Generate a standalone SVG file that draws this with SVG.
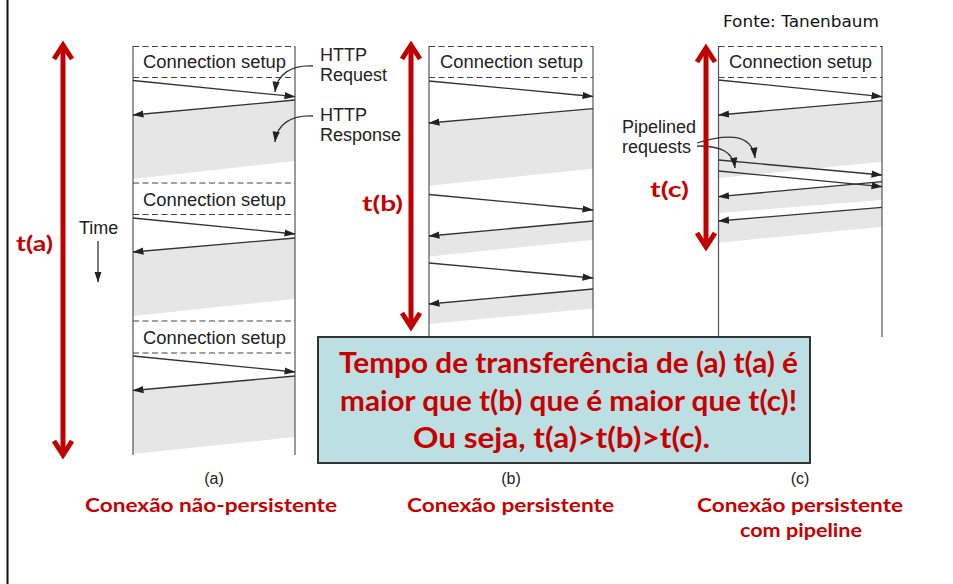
<svg xmlns="http://www.w3.org/2000/svg" width="953" height="584" viewBox="0 0 953 584">
<style>
  .col { stroke: #555; stroke-width: 1.2; fill: none; }
  .dash { stroke: #444; stroke-width: 1.2; stroke-dasharray: 6 3.5; fill: none; }
  .gray { fill: #E6E6E6; stroke: none; }
  .msg { stroke: #333; stroke-width: 1.3; fill: none; marker-end: url(#ah); }
  .curve { stroke: #333; stroke-width: 1.3; fill: none; marker-end: url(#ah); }
  .lbl { font-family: "Liberation Sans", Arial, sans-serif; font-size: 18px; fill: #222; }
  .sub { font-family: "Liberation Sans", Arial, sans-serif; font-size: 16px; fill: #222; text-anchor: middle; }
  .red { font-family: "Comic Sans MS", Lato, "DejaVu Sans", sans-serif; font-weight: bold; fill: #C80000; }
  .redarrow { stroke: #C00000; stroke-width: 5; fill: none; marker-start: url(#chev); marker-end: url(#chev); }
</style>
<defs>
  <marker id="ah" markerUnits="userSpaceOnUse" markerWidth="11" markerHeight="8" viewBox="0 0 11 8" refX="10.5" refY="4" orient="auto">
    <path d="M0,0.4 L11,4 L0,7.6 z" fill="#222"/>
  </marker>
  <marker id="chev" markerUnits="userSpaceOnUse" markerWidth="30" markerHeight="30" viewBox="-20 -15 30 30" refX="0" refY="0" orient="auto-start-reverse">
    <path d="M-14,-9 L0,0 L-14,9" fill="none" stroke="#C00000" stroke-width="5" stroke-linecap="butt" stroke-linejoin="miter"/>
  </marker>
</defs>

<rect width="953" height="584" fill="#fff"/>
<line x1="7.5" y1="0" x2="7.5" y2="584" stroke="#111" stroke-width="2"/>

<text x="723" y="27" font-family="'Comic Sans MS', 'DejaVu Sans', sans-serif" font-size="16" fill="#111" textLength="156" lengthAdjust="spacingAndGlyphs">Fonte: Tanenbaum</text>

<!-- Column (a) -->
<g id="col-a">
  <polygon class="gray" points="133,115 295,100 295,161 133,179"/>
  <polygon class="gray" points="133,252 295,238 295,299 133,316"/>
  <polygon class="gray" points="133,390 295,376 295,437 133,454"/>
  <line class="col" x1="133" y1="46" x2="133" y2="455"/>
  <line class="col" x1="295" y1="46" x2="295" y2="455"/>
  <line class="dash" x1="133" y1="46.5" x2="295" y2="46.5"/>
  <line class="dash" x1="133" y1="77.5" x2="295" y2="77.5"/>
  <line class="dash" x1="133" y1="183" x2="295" y2="183"/>
  <line class="dash" x1="133" y1="214.5" x2="295" y2="214.5"/>
  <line class="dash" x1="133" y1="321" x2="295" y2="321"/>
  <line class="dash" x1="133" y1="353" x2="295" y2="353"/>
  <text class="lbl" x="143" y="68" textLength="143" lengthAdjust="spacingAndGlyphs">Connection setup</text>
  <text class="lbl" x="143" y="206" textLength="143" lengthAdjust="spacingAndGlyphs">Connection setup</text>
  <text class="lbl" x="143" y="344" textLength="143" lengthAdjust="spacingAndGlyphs">Connection setup</text>
  <text class="sub" x="214" y="484">(a)</text>
</g>

<!-- Column (b) -->
<g id="col-b">
  <polygon class="gray" points="429,123 593,108.7 593,168.7 429,185.7"/>
  <polygon class="gray" points="429,236 593,221 593,240 429,256.5"/>
  <polygon class="gray" points="429,304 593,289 593,308.5 429,324"/>
  <line class="col" x1="429" y1="46" x2="429" y2="337"/>
  <line class="col" x1="593" y1="46" x2="593" y2="337"/>
  <line class="dash" x1="429" y1="46.5" x2="593" y2="46.5"/>
  <line class="dash" x1="429" y1="77.5" x2="593" y2="77.5"/>
  <text class="lbl" x="440" y="68" textLength="143" lengthAdjust="spacingAndGlyphs">Connection setup</text>
  <text class="sub" x="511" y="484">(b)</text>
</g>

<!-- Column (c) -->
<g id="col-c">
  <polygon class="gray" points="718.5,115 882,100.7 882,161.7 718.5,178"/>
  <polygon class="gray" points="718.5,196.7 882,181.7 882,200 718.5,213"/>
  <polygon class="gray" points="718.5,221 882,207.3 882,226.7 718.5,242.7"/>
  <line class="col" x1="718.5" y1="46" x2="718.5" y2="337"/>
  <line class="col" x1="882" y1="46" x2="882" y2="337"/>
  <line class="dash" x1="718.5" y1="46.5" x2="882" y2="46.5"/>
  <line class="dash" x1="718.5" y1="77.5" x2="882" y2="77.5"/>
  <text class="lbl" x="729" y="68" textLength="143" lengthAdjust="spacingAndGlyphs">Connection setup</text>
  <text class="sub" x="800" y="484">(c)</text>
</g>

<!-- Annotation labels -->
<g id="labels">
  <text class="lbl" x="320" y="61">HTTP</text>
  <text class="lbl" x="320" y="81">Request</text>
  <text class="lbl" x="320" y="121">HTTP</text>
  <text class="lbl" x="320" y="141">Response</text>
  <text class="lbl" x="79" y="234">Time</text>
  <text class="lbl" x="622" y="133">Pipelined</text>
  <text class="lbl" x="622" y="153">requests</text>
</g>

<!-- Connectors -->
<g id="connectors">
  <!-- (a) -->
  <line class="msg" x1="133" y1="80.5" x2="295" y2="96.7"/>
  <line class="msg" x1="295" y1="100" x2="133" y2="115"/>
  <line class="msg" x1="133" y1="218" x2="295" y2="234"/>
  <line class="msg" x1="295" y1="238" x2="133" y2="252"/>
  <line class="msg" x1="133" y1="356" x2="295" y2="372"/>
  <line class="msg" x1="295" y1="376" x2="133" y2="390.5"/>
  <!-- (b) -->
  <line class="msg" x1="429" y1="81" x2="593" y2="96.5"/>
  <line class="msg" x1="593" y1="108.7" x2="429" y2="123"/>
  <line class="msg" x1="429" y1="194.5" x2="593" y2="210"/>
  <line class="msg" x1="593" y1="221" x2="429" y2="236"/>
  <line class="msg" x1="429" y1="263" x2="593" y2="278"/>
  <line class="msg" x1="593" y1="289" x2="429" y2="304"/>
  <!-- (c) -->
  <line class="msg" x1="718.5" y1="80" x2="882" y2="96.7"/>
  <line class="msg" x1="882" y1="100.7" x2="718.5" y2="115"/>
  <line class="msg" x1="718.5" y1="160" x2="882" y2="175"/>
  <line class="msg" x1="718.5" y1="171" x2="882" y2="186.7"/>
  <line class="msg" x1="882" y1="181.7" x2="718.5" y2="196.7"/>
  <line class="msg" x1="882" y1="207.3" x2="718.5" y2="221"/>
  <!-- label pointers -->
  <path class="curve" d="M313,66 C291,65 277,74 275,92"/>
  <path class="curve" d="M313,116 C291,115 277,124 275,142"/>
  <path class="curve" d="M697,143 C722,135 752,131 755,158"/>
  <path class="curve" d="M697,146 C722,146 733,152 735,168"/>
  <line class="msg" x1="98" y1="241" x2="98" y2="282"/>
  <!-- red time spans -->
  <line class="redarrow" x1="63" y1="45" x2="63" y2="455"/>
  <line class="redarrow" x1="411" y1="45" x2="411" y2="327"/>
  <line class="redarrow" x1="706" y1="48" x2="706" y2="247"/>
</g>

<g id="time-labels">
  <text class="red" x="16" y="251" font-size="21" textLength="37" lengthAdjust="spacingAndGlyphs">t(a)</text>
  <text class="red" x="362" y="211" font-size="21" textLength="41" lengthAdjust="spacingAndGlyphs">t(b)</text>
  <text class="red" x="650" y="197" font-size="21" textLength="39" lengthAdjust="spacingAndGlyphs">t(c)</text>
</g>

<!-- Summary box -->
<g id="summary">
  <rect x="318" y="337" width="492" height="126" fill="#BBDFE2" stroke="#333" stroke-width="2"/>
  <text class="red" x="339" y="373" font-size="29" textLength="459" lengthAdjust="spacingAndGlyphs">Tempo de transferência de (a) t(a) é</text>
  <text class="red" x="340" y="411" font-size="29" textLength="457" lengthAdjust="spacingAndGlyphs">maior que t(b) que é maior que t(c)!</text>
  <text class="red" x="413" y="448" font-size="29" textLength="297" lengthAdjust="spacingAndGlyphs">Ou seja, t(a)&gt;t(b)&gt;t(c).</text>
</g>

<g id="captions">
  <text class="red" x="85" y="512" font-size="19" textLength="252" lengthAdjust="spacingAndGlyphs">Conexão não-persistente</text>
  <text class="red" x="407" y="512" font-size="19" textLength="207" lengthAdjust="spacingAndGlyphs">Conexão persistente</text>
  <text class="red" x="697" y="512" font-size="19" textLength="206" lengthAdjust="spacingAndGlyphs">Conexão persistente</text>
  <text class="red" x="740" y="537" font-size="19" textLength="122" lengthAdjust="spacingAndGlyphs">com pipeline</text>
</g>
</svg>
